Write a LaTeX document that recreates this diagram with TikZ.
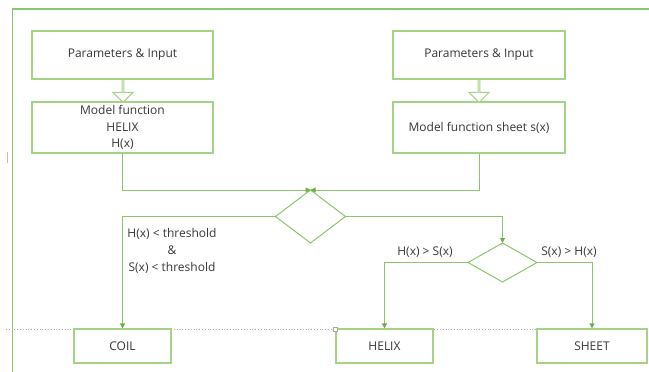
\documentclass[tikz,border=0pt]{standalone}
\usepackage{fontspec}
\setmainfont{Open Sans}
\usepackage{tikz}
\usetikzlibrary{arrows.meta,calc,positioning,shapes.geometric,shapes.arrows}

\definecolor{boxgreen}{RGB}{165,210,135}
\definecolor{linegreen}{RGB}{140,198,108}
\definecolor{tipgreen}{RGB}{112,173,71}
\definecolor{txtgray}{RGB}{55,55,55}

\begin{document}
\begin{tikzpicture}[
      x=1pt, y=-1pt,
      box/.style={draw=boxgreen, line width=1.1pt, fill=white, align=center,
        font=\fontsize{12}{16.5}\selectfont, text=txtgray, inner sep=0pt},
      inbox/.style={box, minimum height=48pt},
      fnbox/.style={box, minimum height=51pt},
      outbox/.style={box, minimum height=34pt},
      decision/.style={diamond, draw=linegreen, line width=1pt, fill=white,
        inner sep=0pt, outer sep=0pt},
      hollow/.style={single arrow, draw=boxgreen, line width=1pt, fill=white,
        shape border rotate=270, minimum height=23pt, minimum width=20pt,
        single arrow tip angle=90, single arrow head extend=5pt, inner sep=0pt},
      arrow/.style={-{Triangle[length=5pt,width=5pt,color=tipgreen]},
        line width=1pt, draw=linegreen},
      label/.style={font=\fontsize{12}{17}\selectfont, text=txtgray, align=center}
    ]
    \useasboundingbox (0,0) rectangle (649,372);

    % frame and guide
    \draw[linegreen, line width=1.2pt] (12.5,372) -- (12.5,9) -- (649,9);
    \draw[black!30, dotted, line width=0.8pt] (6,329) -- (649,329);
    \draw[black!25, line width=0.6pt] (7,152) -- (7,163);

    \node[inbox, minimum width=181pt] (paramsA) at (122.5,55) {Parameters \& Input};
    \node[fnbox, minimum width=181pt] (helixfn) at (122.5,127.5)
      {Model function\\HELIX\\H(x)};
    \node[inbox, minimum width=172pt] (paramsB) at (479,55) {Parameters \& Input};
    \node[fnbox, minimum width=172pt] (sheetfn) at (479,127.5)
      {Model function sheet s(x)};

    \node[hollow] (flowA) at (123,90.5) {};
    \node[hollow] (flowB) at (479,90.5) {};

    \node[decision, minimum width=70pt, minimum height=53pt] (check) at (310.5,216.5) {};
    \node[decision, minimum width=69pt, minimum height=39pt] (compare) at (502.5,262.5) {};

    \node[outbox, minimum width=97pt] (coil) at (122.5,346) {COIL};
    \node[outbox, minimum width=97pt] (helix) at (384.5,346) {HELIX};
    \node[outbox, minimum width=110pt] (sheet) at (592,346) {SHEET};

    \node[draw=black!35, fill=white, minimum size=4pt, inner sep=0pt,
      line width=0.6pt] (handle) at (335,329) {};

    \node[label] (lowlbl) at (172,251)
      {H(x) < threshold\\\&\\S(x) < threshold};
    \node[label] (hlbl) at (425,252) {H(x) > S(x)};
    \node[label] (slbl) at (569,252) {S(x) > H(x)};

    \draw[arrow] (helixfn.south) |- (check.north);
    \draw[arrow] (sheetfn.south) |- (check.north);
    \draw[arrow] (check.west) -| (coil.north);
    \draw[arrow] (check.east) -| (compare.north);
    \draw[arrow] (compare.west) -| (helix.north);
    \draw[arrow] (compare.east) -| (sheet.north);
  \end{tikzpicture}
\end{document}
